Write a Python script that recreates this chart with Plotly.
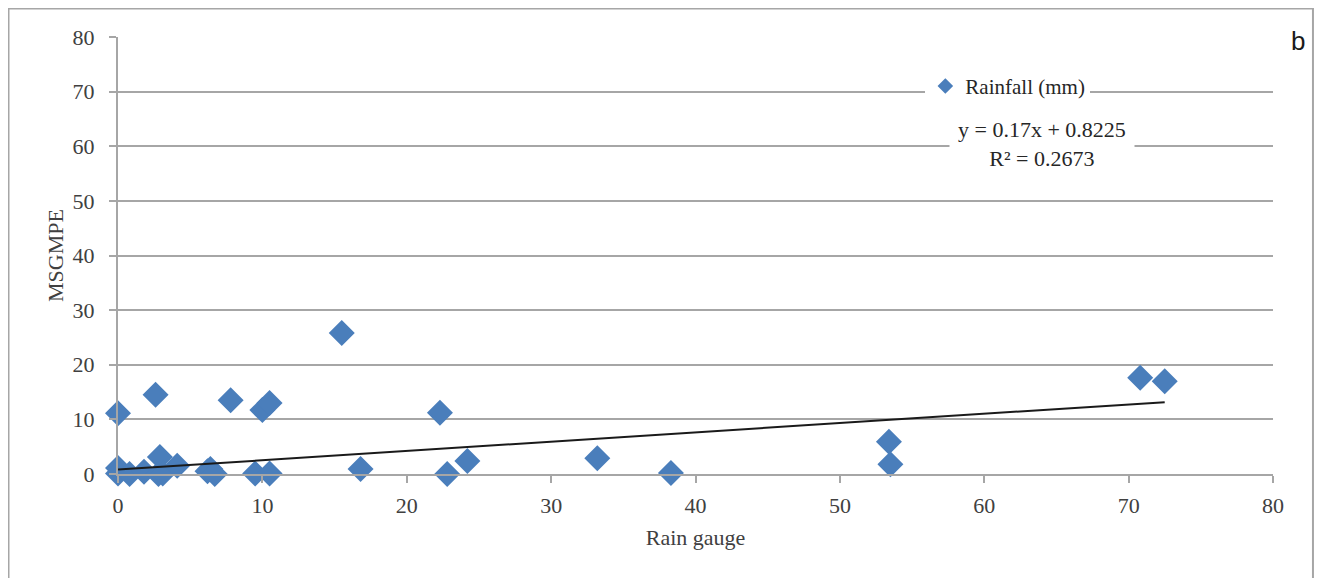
import plotly.graph_objects as go

# Data
rain_gauge = [0, 0, 0, 0.8, 1.8, 2.6, 2.8, 2.9, 3.1, 4.1, 6.2, 6.4, 6.7,
              7.8, 9.5, 10.0, 10.5, 10.5, 15.5, 16.8, 22.3, 22.8, 24.2,
              33.2, 38.3, 53.4, 53.5, 70.8, 72.5]
msgmpe = [11.1, 1.1, 0.1, 0.0, 0.4, 14.5, 0.0, 3.1, 0.1, 1.5, 0.5, 0.9, 0.0,
          13.5, 0.1, 11.7, 13.0, 0.1, 25.8, 0.9, 11.2, 0.0, 2.4,
          2.9, 0.2, 5.9, 1.8, 17.6, 17.0]
slope = 0.17
intercept = 0.8225
r_squared = 0.2673
x_ticks = [0, 10, 20, 30, 40, 50, 60, 70, 80]
y_ticks = [0, 10, 20, 30, 40, 50, 60, 70, 80]

font_family = "Liberation Serif"
text_color = "#404040"
grid_color = "#a6a6a6"
blue = "#4a7ebb"

fig = go.Figure()

fig.add_trace(go.Scatter(x=rain_gauge, y=msgmpe, mode="markers",
                         name="Rainfall (mm)", cliponaxis=False,
                         marker=dict(symbol="diamond", size=20, color=blue,
                                     line=dict(width=0))))

x_fit = [min(rain_gauge), max(rain_gauge)]
y_fit = [slope * v + intercept for v in x_fit]
fig.add_trace(go.Scatter(x=x_fit, y=y_fit, mode="lines",
                         line=dict(color="#1a1a1a", width=2),
                         showlegend=False, hoverinfo="skip", cliponaxis=False))

fig.update_layout(
    width=1325, height=578,
    margin=dict(l=110, r=60, t=29, b=112, autoexpand=False),
    paper_bgcolor="white", plot_bgcolor="white",
    font=dict(family=font_family, size=20, color=text_color),
    showlegend=True,
    legend=dict(x=0.699, y=0.934, xanchor="left", yanchor="top",
                bgcolor="white", font=dict(size=21, color="#262626"),
                itemsizing="constant", itemwidth=30),
    xaxis=dict(range=[0, 80], tickvals=x_ticks, showgrid=False,
               zeroline=False, showline=True, linecolor=grid_color,
               linewidth=2, ticks="outside", ticklen=7, tickcolor=grid_color,
               tickwidth=2, tickfont=dict(size=22), ticklabelstandoff=4,
               title=dict(text="Rain gauge", font=dict(size=22), standoff=12)),
    yaxis=dict(range=[0, 80], tickvals=y_ticks, showgrid=True,
               gridcolor=grid_color, gridwidth=2, zeroline=False,
               showline=True, linecolor=grid_color, linewidth=2,
               ticks="outside", ticklen=7, tickcolor=grid_color, tickwidth=2,
               tickfont=dict(size=22), ticklabelstandoff=10,
               title=dict(text="MSGMPE", font=dict(size=22), standoff=3)),
)

# outer chart border
fig.add_shape(type="rect", xref="paper", yref="paper",
              x0=-0.0948, x1=1.0346, y0=-0.26, y1=1.0653,
              line=dict(color="#a6a6a6", width=2), fillcolor="rgba(0,0,0,0)",
              layer="below")

fig.add_annotation(xref="paper", yref="paper", x=0.80, y=0.756,
                   text=f"y = {slope}x + {intercept}<br>R² = {r_squared}",
                   showarrow=False, bgcolor="white", align="center",
                   font=dict(size=22, color="#262626"),
                   borderpad=8, xanchor="center", yanchor="middle")

fig.add_annotation(xref="paper", yref="paper", x=1.0216, y=0.99,
                   text="b", showarrow=False,
                   font=dict(family="Liberation Sans", size=26, color="#1a1a1a"),
                   xanchor="center", yanchor="middle")

fig.write_html("out.html")
